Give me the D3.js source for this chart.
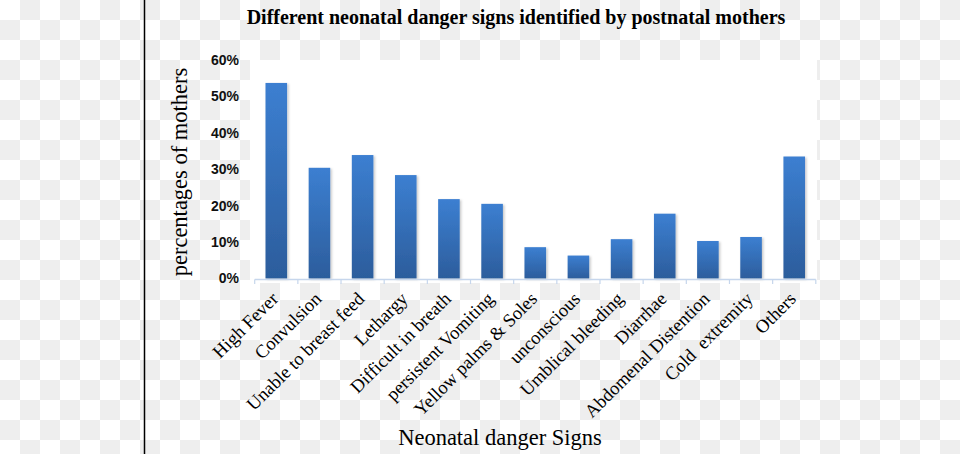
<!DOCTYPE html>
<html><head><meta charset="utf-8">
<script src="https://cdn.jsdelivr.net/npm/d3@7"></script>
<style>body{margin:0;background:#fff}svg{display:block}</style>
</head><body>
<script>
const categories = ["High Fever","Convulsion","Unable to breast feed","Lethargy","Difficult in breath","persistent Vomiting","Yellow palms & Soles","unconscious","Umblical bleeding","Diarrhae","Abdomenal Distention","Cold  extremity","Others"];
const values = [53.7, 30.4, 33.9, 28.4, 21.8, 20.5, 8.6, 6.3, 10.8, 17.8, 10.3, 11.4, 33.5];
const yTicks = [0, 10, 20, 30, 40, 50, 60];
const titleText = "Different neonatal danger signs identified by postnatal mothers";
const xTitle = "Neonatal danger Signs";
const yTitle = "percentages of mothers";

const W = 960, H = 454;
const svg = d3.select("body").append("svg").attr("width", W).attr("height", H);
const defs = svg.append("defs");

const pat = defs.append("pattern").attr("id","checker").attr("patternUnits","userSpaceOnUse")
  .attr("width",40).attr("height",40);
pat.append("rect").attr("width",40).attr("height",40).attr("fill","#ffffff");
pat.append("rect").attr("x",20).attr("y",0).attr("width",20).attr("height",20).attr("fill","#eeeeee");
pat.append("rect").attr("x",0).attr("y",20).attr("width",20).attr("height",20).attr("fill","#eeeeee");

const grad = defs.append("linearGradient").attr("id","barGrad").attr("x1",0).attr("y1",0).attr("x2",0).attr("y2",1);
grad.append("stop").attr("offset","0%").attr("stop-color","#3c7fd1");
grad.append("stop").attr("offset","100%").attr("stop-color","#2c5d9c");

const shadow = defs.append("filter").attr("id","shadow").attr("x","-20%").attr("y","-10%").attr("width","150%").attr("height","130%");
shadow.append("feDropShadow").attr("dx",1.5).attr("dy",1).attr("stdDeviation",1.2)
  .attr("flood-color","#000").attr("flood-opacity",0.22);

svg.append("rect").attr("width",W).attr("height",H).attr("fill","url(#checker)");

// plot area
svg.append("rect").attr("x",250).attr("y",60).attr("width",567).attr("height",223).attr("fill","#ffffff");

// left vertical line
svg.append("line").attr("x1",144.5).attr("x2",144.5).attr("y1",0).attr("y2",H)
  .attr("stroke","#000").attr("stroke-width",1.5);

const x = d3.scaleBand().domain(categories).range([254.7, 815.8]).paddingInner(0.5).paddingOuter(0.25);
const y = d3.scaleLinear().domain([0, 60]).range([278.5, 60]);

// bars
svg.append("g").selectAll("rect").data(values).join("rect")
  .attr("x", (d,i) => x(categories[i]))
  .attr("width", x.bandwidth())
  .attr("y", d => y(d))
  .attr("height", d => y(0) - y(d))
  .attr("fill", "url(#barGrad)")
  .attr("filter", "url(#shadow)");

// x axis line and boundary ticks
const step = x.step();
const x0 = x.range()[0];
const bounds = d3.range(categories.length + 1).map(i => x0 + i * step);
const axisG = svg.append("g");
axisG.append("line").attr("x1", x0).attr("x2", x.range()[1]).attr("y1", 279.5).attr("y2", 279.5)
  .attr("stroke","#c6d6ec").attr("stroke-width",1.5);
axisG.selectAll("line.tk").data(bounds).join("line").attr("class","tk")
  .attr("x1", d => d).attr("x2", d => d).attr("y1", 279.5).attr("y2", 284)
  .attr("stroke","#c6d6ec").attr("stroke-width",1.2);

// y axis labels
const yAxis = d3.axisLeft(y).tickValues(yTicks).tickFormat(d => d + "%").tickSize(0).tickPadding(0);
const yg = svg.append("g").attr("transform","translate(239,0)").call(yAxis);
yg.select(".domain").remove();
yg.selectAll("text").attr("font-family","'Liberation Sans', Arial, sans-serif")
  .attr("font-weight","bold").attr("font-size",14).attr("fill","#111");

// x labels
svg.append("g").selectAll("text").data(categories).join("text")
  .attr("transform", d => `translate(${x(d) + x.bandwidth()/2 + 3},${300}) rotate(-45)`)
  .attr("text-anchor","end")
  .attr("font-family","'Liberation Serif', 'Times New Roman', serif")
  .attr("font-size",18.5).attr("fill","#000")
  .style("white-space","pre")
  .text(d => d);

// title
svg.append("text").attr("x",516).attr("y",24).attr("text-anchor","middle")
  .attr("font-family","'Liberation Serif', 'Times New Roman', serif")
  .attr("font-weight","bold").attr("font-size",20).attr("fill","#000")
  .text(titleText);

// axis titles
svg.append("text").attr("x",500).attr("y",445).attr("text-anchor","middle")
  .attr("font-family","'Liberation Serif', 'Times New Roman', serif")
  .attr("font-size",22.5).attr("fill","#000").text(xTitle);

svg.append("text").attr("transform","translate(187,172) rotate(-90)").attr("text-anchor","middle")
  .attr("font-family","'Liberation Serif', 'Times New Roman', serif")
  .attr("font-size",22.5).attr("fill","#000").text(yTitle);
</script>
</body></html>
